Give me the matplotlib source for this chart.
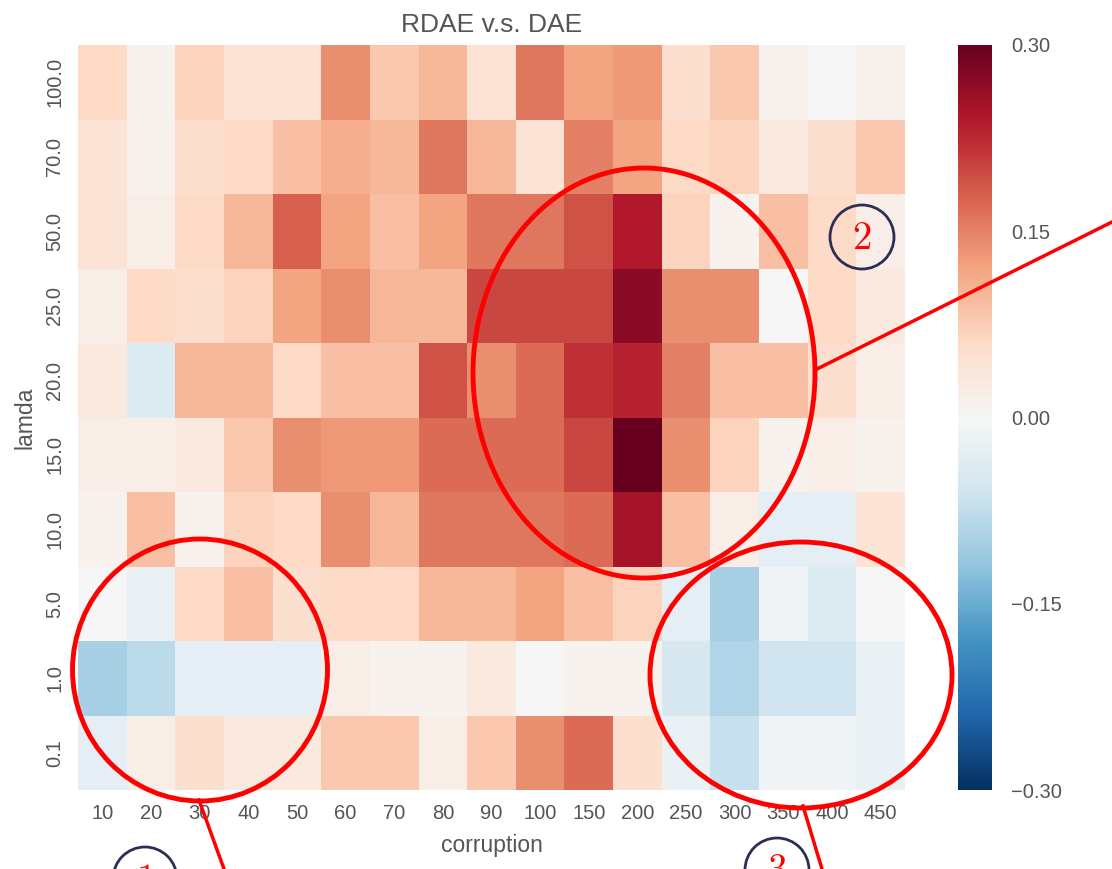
import numpy as np
import matplotlib
matplotlib.use("Agg")
import matplotlib.pyplot as plt
import seaborn as sns
from matplotlib.patches import Ellipse, Circle

# corruption levels (columns) and lamda values (rows, top to bottom)
corruption = [10, 20, 30, 40, 50, 60, 70, 80, 90, 100, 150, 200, 250, 300, 350, 400, 450]
lamda = ["100.0", "70.0", "50.0", "25.0", "20.0", "15.0", "10.0", "5.0", "1.0", "0.1"]

# RDAE minus DAE
row_100 = [0.06, 0.01, 0.07, 0.04, 0.04, 0.14, 0.08, 0.10, 0.04, 0.16, 0.12, 0.13, 0.05, 0.08, 0.01, 0.00, 0.01]
row_70 = [0.04, 0.01, 0.05, 0.06, 0.09, 0.11, 0.10, 0.16, 0.10, 0.04, 0.15, 0.12, 0.06, 0.07, 0.03, 0.05, 0.08]
row_50 = [0.04, 0.02, 0.06, 0.10, 0.18, 0.12, 0.09, 0.12, 0.16, 0.16, 0.19, 0.24, 0.07, 0.01, 0.09, 0.06, 0.02]
row_25 = [0.02, 0.06, 0.05, 0.07, 0.12, 0.14, 0.10, 0.10, 0.20, 0.20, 0.20, 0.27, 0.14, 0.14, 0.00, 0.06, 0.03]
row_20 = [0.03, -0.04, 0.10, 0.10, 0.06, 0.09, 0.09, 0.19, 0.14, 0.17, 0.22, 0.23, 0.15, 0.09, 0.09, 0.05, 0.02]
row_15 = [0.02, 0.02, 0.03, 0.08, 0.14, 0.13, 0.13, 0.17, 0.17, 0.17, 0.20, 0.30, 0.14, 0.07, 0.01, 0.02, 0.01]
row_10 = [0.01, 0.09, 0.01, 0.07, 0.06, 0.14, 0.10, 0.16, 0.16, 0.16, 0.17, 0.25, 0.09, 0.02, -0.03, -0.03, 0.04]
row_5 = [0.00, -0.02, 0.06, 0.09, 0.05, 0.06, 0.06, 0.10, 0.10, 0.12, 0.09, 0.07, -0.03, -0.10, -0.01, -0.04, 0.00]
row_1 = [-0.10, -0.08, -0.03, -0.03, -0.03, 0.02, 0.01, 0.01, 0.03, 0.00, 0.01, 0.01, -0.05, -0.09, -0.06, -0.06, -0.02]
row_01 = [-0.03, 0.02, 0.05, 0.03, 0.03, 0.08, 0.08, 0.02, 0.08, 0.14, 0.17, 0.05, -0.02, -0.07, -0.01, -0.01, -0.02]

data = np.array([row_100, row_70, row_50, row_25, row_20, row_15, row_10, row_5, row_1, row_01])
cbar_ticks = [-0.30, -0.15, 0.0, 0.15, 0.30]

plt.rcParams['font.family'] = ['Liberation Sans', 'DejaVu Sans']
plt.rcParams['mathtext.fontset'] = 'cm'
grey = '#555555'

fig = plt.figure(figsize=(11.12, 8.69), dpi=100)
W, H = 1112.0, 869.0
ax = fig.add_axes([78 / W, 1 - 790 / H, 827 / W, 745 / H])
cax = fig.add_axes([958 / W, 1 - 790 / H, 34 / W, 745 / H])

sns.heatmap(data, ax=ax, cbar_ax=cax, cmap='RdBu_r', vmin=-0.3, vmax=0.3,
            xticklabels=corruption, yticklabels=lamda)

ax.set_title('RDAE v.s. DAE', fontsize=19, color=grey, pad=9)
ax.set_xlabel('corruption', fontsize=16.5, color=grey, labelpad=8)
ax.set_ylabel('lamda', fontsize=16.5, color=grey, labelpad=6)
ax.tick_params(length=0, labelsize=14.5, labelcolor=grey, pad=10)
plt.setp(ax.get_yticklabels(), rotation=90, va='center')
plt.setp(ax.get_xticklabels(), rotation=0)

cax.set_yticks(cbar_ticks)
cax.set_yticklabels([('%.2f' % v).replace('-', '\u2212') for v in cbar_ticks])
cax.tick_params(length=0, labelsize=14.5, labelcolor=grey, pad=14)

# annotation overlay in pixel coords
ov = fig.add_axes([0, 0, 1, 1])
ov.set_xlim(0, W)
ov.set_ylim(H, 0)
ov.axis('off')
red = '#ff0000'
ov.add_patch(Ellipse((200, 670), 255, 262, fill=False, ec=red, lw=3.5))
ov.add_patch(Ellipse((644, 373), 342, 410, fill=False, ec=red, lw=3.5))
ov.add_patch(Ellipse((801, 675), 302, 266, fill=False, ec=red, lw=3.5))
ov.plot([815, 1112], [370, 222], color=red, lw=2.5)
ov.plot([199, 224], [800, 869], color=red, lw=2.5)
ov.plot([803, 822], [806, 869], color=red, lw=2.5)

navy = '#2b2f55'
for (cx, cy, num) in [(862, 237, '2'), (145, 879, '1'), (777, 870, '3')]:
    ov.add_patch(Circle((cx, cy), 32, fill=False, ec=navy, lw=2))
    ov.text(cx, cy + 2, '$%s$' % num, color=red, fontsize=28, ha='center', va='center')

fig.savefig('out.png', dpi=100)
